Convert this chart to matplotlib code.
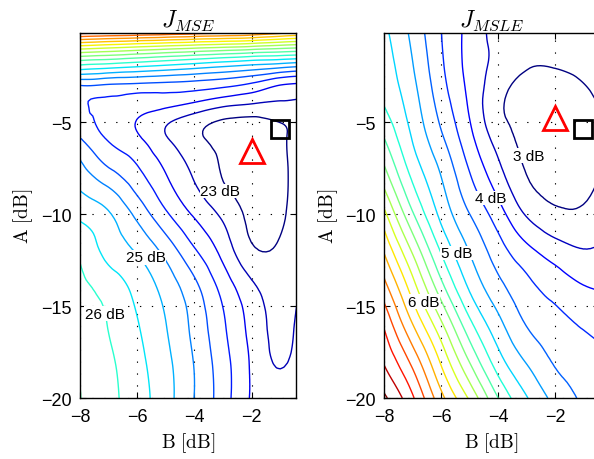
import numpy as np
import matplotlib
matplotlib.use('Agg')
import matplotlib.pyplot as plt
import matplotlib.tri as mtri

plt.rcParams['font.family'] = ['Liberation Sans', 'DejaVu Sans']
plt.rcParams['mathtext.fontset'] = 'cm'

# B axis of both cost surfaces (dB)
b_grid = [-8, -7, -6, -5, -4, -3, -2, -1, 0]

# J_MSE in dB, one row per value of a_mse
a_mse = [0, -1, -2, -3, -4, -5, -6, -8, -10, -12, -14, -16, -18, -20]
j_mse = [
    [31.10, 31.05, 31.00, 30.90, 30.75, 30.60, 30.45, 30.10, 29.85],
    [28.09, 27.93, 27.77, 27.61, 27.46, 27.32, 27.17, 27.01, 26.85],
    [25.80, 25.65, 25.49, 25.33, 25.16, 24.98, 24.80, 24.61, 24.41],
    [24.01, 23.94, 23.88, 23.83, 23.76, 23.62, 23.38, 22.99, 22.85],
    [23.56, 23.43, 23.23, 23.15, 22.94, 22.66, 22.51, 22.44, 22.40],
    [23.58, 23.35, 22.98, 22.57, 22.21, 21.93, 21.85, 22.01, 22.35],
    [24.08, 23.48, 23.11, 22.57, 22.14, 21.85, 21.78, 21.93, 22.35],
    [24.78, 24.24, 23.68, 23.04, 22.46, 21.98, 21.80, 21.90, 22.35],
    [25.38, 25.05, 24.36, 23.58, 22.93, 22.39, 21.88, 21.93, 22.35],
    [25.91, 25.35, 24.95, 24.33, 23.56, 22.83, 22.08, 22.08, 22.35],
    [26.13, 25.79, 25.35, 24.82, 24.14, 23.33, 22.61, 22.30, 22.63],
    [26.27, 25.98, 25.53, 25.01, 24.35, 23.57, 22.83, 22.38, 22.80],
    [26.42, 26.09, 25.65, 25.13, 24.47, 23.70, 22.93, 22.45, 22.95],
    [26.51, 26.15, 25.72, 25.19, 24.49, 23.74, 22.95, 22.78, 23.02],
]
mse_levels = [22.0, 22.5, 23.0, 23.5, 24.0, 24.5, 25.0, 25.5, 26.0, 26.5,
              27.0, 27.5, 28.0, 28.5, 29.0, 29.5, 30.0, 30.5, 31.0]
mse_range = (22.0, 32.0)

# J_MSLE in dB, one row per value of a_msle
a_msle = [0, -2, -4, -6, -8, -10, -12, -14, -16, -18, -20]
j_msle = [
    [5.050, 4.680, 4.255, 3.915, 3.675, 3.625, 3.613, 3.625, 3.650],
    [5.130, 4.765, 4.298, 3.920, 3.663, 3.510, 3.505, 3.550, 3.650],
    [5.238, 4.865, 4.398, 3.963, 3.550, 3.438, 3.400, 3.450, 3.550],
    [5.523, 4.993, 4.558, 4.088, 3.660, 3.438, 3.388, 3.438, 3.538],
    [5.875, 5.210, 4.755, 4.280, 3.858, 3.508, 3.425, 3.450, 3.550],
    [6.323, 5.530, 4.935, 4.503, 4.118, 3.725, 3.550, 3.538, 3.725],
    [6.725, 5.963, 5.228, 4.738, 4.368, 4.075, 3.875, 3.763, 3.825],
    [7.098, 6.370, 5.598, 4.970, 4.583, 4.323, 4.158, 4.018, 3.975],
    [7.465, 6.758, 6.053, 5.325, 4.830, 4.490, 4.335, 4.225, 4.150],
    [7.723, 7.173, 6.463, 5.738, 5.113, 4.730, 4.473, 4.365, 4.258],
    [8.050, 7.538, 6.833, 6.213, 5.505, 5.020, 4.673, 4.465, 4.375],
]
msle_levels = [3.5, 3.75, 4.0, 4.25, 4.5, 4.75, 5.0, 5.25, 5.5, 5.75,
               6.0, 6.25, 6.5, 6.75, 7.0, 7.25, 7.5, 7.75, 8.0]
msle_range = (3.5, 8.0)

# (B, A) of the estimate (triangle) and of the reference point (square)
mse_est = (-2.0, -6.6)
msle_est = (-2.0, -4.8)
ref_point = (-1.0, -5.4)

mse_labels = ['23 dB', '25 dB', '26 dB']
msle_labels = ['3 dB', '4 dB', '5 dB', '6 dB']
mse_label_pos = [(-3.10, -8.75), (-5.71, -12.34), (-7.14, -15.43)]
msle_label_pos = [(-2.91, -6.82), (-4.25, -9.13), (-5.46, -12.12), (-6.60, -14.76)]


def grid_triangulation(a):
    nx, ny = len(b_grid), len(a)
    bb, aa = np.meshgrid(b_grid, a)
    tris = []
    for i in range(ny - 1):
        for j in range(nx - 1):
            k = i * nx + j
            tris.append([k, k + 1, k + nx])
            tris.append([k + 1, k + nx + 1, k + nx])
    return mtri.Triangulation(bb.ravel(), aa.ravel(), tris)


def panel(ax, a, z, levels, crange, title, labels, label_pos, est):
    lv = np.array(levels)
    cols = plt.cm.jet((lv - crange[0]) / (crange[1] - crange[0]))
    tri = grid_triangulation(a)
    # matplotlib's own smooth refiner, so the contours are not polygonal
    tri_f, z_f = mtri.UniformTriRefiner(tri).refine_field(
        np.ravel(z), subdiv=3)
    ax.tricontour(tri_f, z_f, levels=levels, colors=cols,
                  linewidths=1.0, zorder=2)
    for txt, (x, y) in zip(labels, label_pos):
        ax.text(x, y, txt, fontsize=11, ha='center', va='center', zorder=4,
                bbox=dict(facecolor='white', edgecolor='none', pad=0.3))
    ax.plot(est[0], est[1], ls='none', marker='^', ms=17, mfc='none',
            mec='red', mew=2, zorder=5)
    ax.plot(ref_point[0], ref_point[1], ls='none', marker='s', ms=13,
            mfc='none', mec='black', mew=2, zorder=5)
    ax.set_xlim(-8, -0.45)
    ax.set_ylim(-20, -0.16)
    ax.set_xticks([-8, -6, -4, -2])
    ax.set_yticks([-20, -15, -10, -5])
    ax.grid(True, color='k', linestyle=(0, (1.2, 9.5)), linewidth=0.8)
    ax.tick_params(direction='in', top=True, right=True, length=4,
                   labelsize=13, width=0.8)
    ax.tick_params(axis='x', pad=7)
    ax.tick_params(axis='y', pad=6)
    for s in ax.spines.values():
        s.set_linewidth(1.0)
    ax.set_title(title, fontsize=17, pad=5)
    ax.set_xlabel(r'$\mathrm{B\ [dB]}$', fontsize=14)
    ax.set_ylabel(r'$\mathrm{A\ [dB]}$', fontsize=14)


fig = plt.figure(figsize=(5.94, 4.6), dpi=100)
ax1 = fig.add_axes([0.1347, 0.1326, 0.3636, 0.7935])
ax2 = fig.add_axes([0.6465, 0.1326, 0.362, 0.7935])

panel(ax1, a_mse, j_mse, mse_levels, mse_range, r'$J_{MSE}$', mse_labels,
      mse_label_pos, mse_est)
panel(ax2, a_msle, j_msle, msle_levels, msle_range, r'$J_{MSLE}$',
      msle_labels, msle_label_pos, msle_est)

fig.savefig('out.png', dpi=100)
